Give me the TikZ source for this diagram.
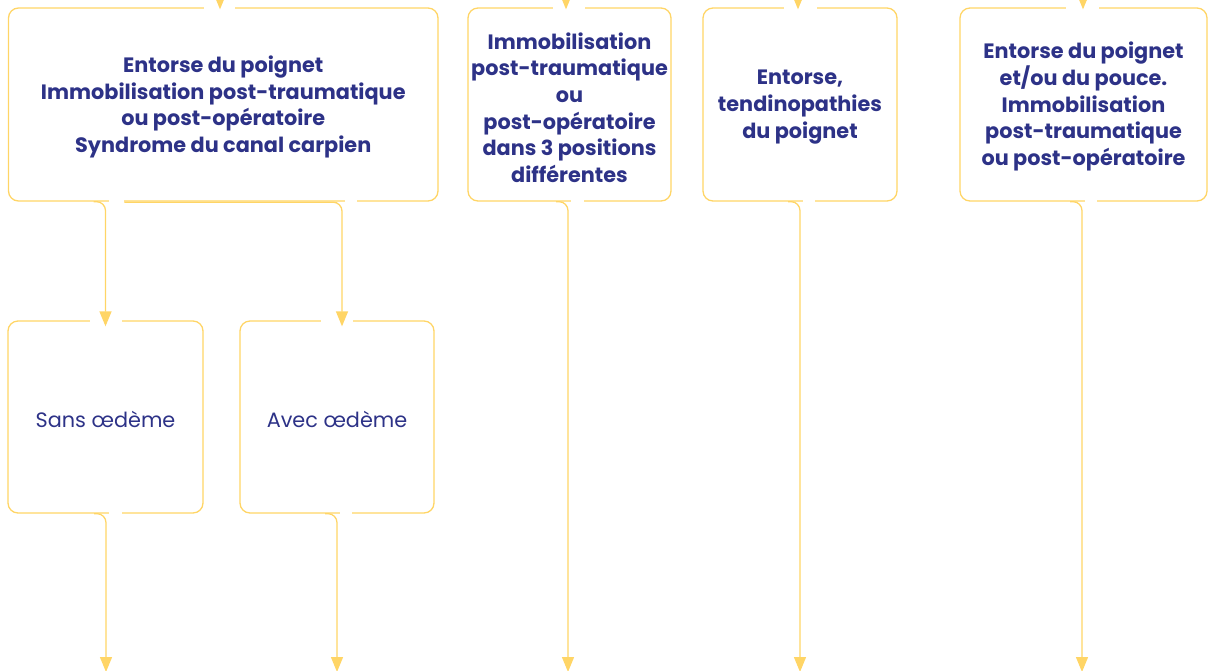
\documentclass[tikz,border=0pt]{standalone}
\usepackage{fontspec}
\setmainfont{Poppins}
\usetikzlibrary{arrows.meta,calc}
\definecolor{ylw}{HTML}{FFD566}
\definecolor{navy}{HTML}{2D3287}
\tikzset{
  box/.style={draw=ylw, line width=1.3pt, rounded corners=10pt, inner sep=0pt},
  btxt/.style={align=center, text=navy, inner sep=0pt, font=\bfseries\fontsize{20.8}{26.6}\selectfont},
  ltxt/.style={btxt, font=\fontsize{20.8}{26.6}\selectfont},
  conn/.style={draw=ylw, line width=1.3pt, rounded corners=9pt, -{Triangle[width=12pt,length=15pt]}},
  gap/.style={draw=white, line width=3.5pt},
}
\begin{document}
\begin{tikzpicture}[x=1pt,y=-1pt]
\useasboundingbox (0,0) rectangle (1210,670);
\clip (0,0) rectangle (1210,670);
% boxes
\node[box, minimum width=429.5pt, minimum height=193pt] (b1) at (223.25,104.5) {};
\node[box, minimum width=203pt, minimum height=193pt] (b4) at (569.5,104.5) {};
\node[box, minimum width=194pt, minimum height=193pt] (b5) at (800,104.5) {};
\node[box, minimum width=247pt, minimum height=193pt] (b6) at (1083.5,104.5) {};
\node[box, minimum width=195pt, minimum height=192pt] (b2) at (105.5,417) {};
\node[box, minimum width=194pt, minimum height=192pt] (b3) at (337,417) {};
% texts
\node[btxt] (b1t) at ($(b1.center)+(0,2.5)$)
  {Entorse du poignet\\Immobilisation post-traumatique\\ou post-opératoire\\Syndrome du canal carpien};
\node[btxt] (b4t) at ($(b4.center)+(0,3)$)
  {Immobilisation\\post-traumatique\\ou\\post-opératoire\\dans 3 positions\\différentes};
\node[btxt] (b5t) at ($(b5.center)+(0,2.5)$)
  {Entorse,\\tendinopathies\\du poignet};
\node[btxt] (b6t) at ($(b6.center)+(0,2)$)
  {Entorse du poignet\\et/ou du pouce.\\Immobilisation\\post-traumatique\\ou post-opératoire};
\node[ltxt] (b2t) at ($(b2.center)+(0,2.5)$) {Sans œdème};
\node[ltxt] (b3t) at ($(b3.center)+(0,2.5)$) {Avec œdème};
% gaps in the borders
\draw[gap] ($(b1.north)+(-19,0)$) -- ($(b1.north)+(12,0)$);
\draw[gap] ($(b4.north)+(-16.5,0)$) -- ($(b4.north)+(15.5,0)$);
\draw[gap] ($(b5.north)+(-16,0)$) -- ($(b5.north)+(17,0)$);
\draw[gap] ($(b6.north)+(-17.5,0)$) -- ($(b6.north)+(15.5,0)$);
\draw[gap] ($(b2.north)+(-15.5,0)$) -- ($(b2.north)+(16.5,0)$);
\draw[gap] ($(b3.north)+(-16,0)$) -- ($(b3.north)+(16,0)$);
\draw[gap] ($(b1.south)+(-114,0)$) -- ($(b1.south)+(-99,0)$);
\draw[gap] ($(b1.south)+(122,0)$) -- ($(b1.south)+(134,0)$);
\draw[gap] ($(b2.south)+(3,0)$) -- ($(b2.south)+(16,0)$);
\draw[gap] ($(b3.south)+(3,0)$) -- ($(b3.south)+(15,0)$);
\draw[gap] ($(b4.south)+(1.5,0)$) -- ($(b4.south)+(14.5,0)$);
\draw[gap] ($(b5.south)+(3,0)$) -- ($(b5.south)+(15,0)$);
\draw[gap] ($(b6.south)+(1.5,0)$) -- ($(b6.south)+(13.5,0)$);
% free ends
\coordinate (t1) at (220,-30);
\coordinate (t4) at (566,-30);
\coordinate (t5) at (798,-30);
\coordinate (t6) at (1083,-30);
\coordinate (e2) at (106,672);
\coordinate (e3) at (337,672);
\coordinate (e4) at (568,672);
\coordinate (e5) at (800,672);
\coordinate (e6) at (1082,672);
% incoming arrows
\draw[conn] (t1) -- ($(t1 |- b1.north)+(0,2)$);
\draw[conn] (t4) -- ($(t4 |- b4.north)+(0,2)$);
\draw[conn] (t5) -- ($(t5 |- b5.north)+(0,2)$);
\draw[conn] (t6) -- ($(t6 |- b6.north)+(0,2)$);
% connectors between boxes
\draw[conn] ($(b1.south -| b2.north)+(-12,0)$) -- (b1.south -| b2.north) -- ($(b2.north)+(0,6)$);
\draw[conn] ($(b1.south)+(-99,0.5)$) -- ($(b1.south -| b3.north)+(5,0.5)$) -- ($(b3.north)+(5,6)$);
% outgoing arrows
\draw[conn] ($(e2 |- b2.south)+(-12,0)$) -- (e2 |- b2.south) -- (e2);
\draw[conn] ($(e3 |- b3.south)+(-12,0)$) -- (e3 |- b3.south) -- (e3);
\draw[conn] ($(e4 |- b4.south)+(-12,0)$) -- (e4 |- b4.south) -- (e4);
\draw[conn] ($(e5 |- b5.south)+(-12,0)$) -- (e5 |- b5.south) -- (e5);
\draw[conn] ($(e6 |- b6.south)+(-12,0)$) -- (e6 |- b6.south) -- (e6);
\end{tikzpicture}
\end{document}
